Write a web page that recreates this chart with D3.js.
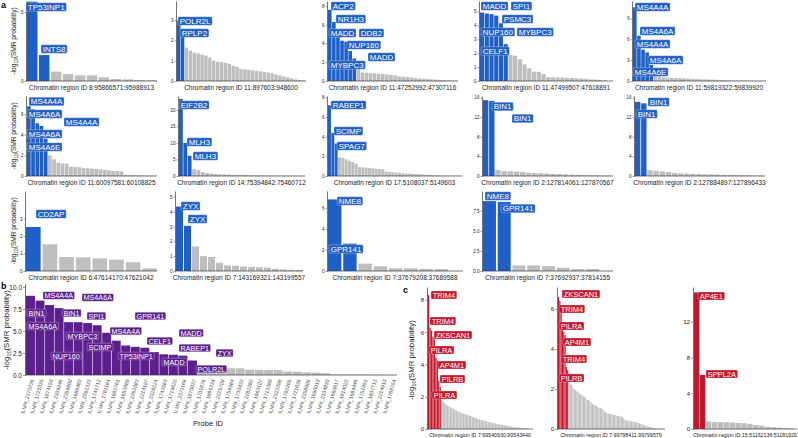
<!DOCTYPE html>
<html><head><meta charset="utf-8">
<script src="https://cdn.jsdelivr.net/npm/d3@7"></script>
<style>body{margin:0;background:#fff}svg{display:block}text{font-family:"Liberation Sans",Arial,Helvetica,sans-serif}</style>
</head><body><svg id="chart" width="798" height="438"></svg>
<script>
// ================= DATA =================
// ---- panel a ----
const regionsA = ["8:95866571:95988913","11:897603:948600","11:47252992:47307116","11:47499507:47618891","11:59819322:59839920",
  "11:60097581:60108825","14:75394842:75460712","17:5108037:5149603","2:127814061:127870567","2:127884897:127896433",
  "6:47614170:47621042","7:143169321:143199557","7:37679208:37689588","7:37692937:37814155"];
const genesA = [["TP53INP1","INTS8"],["POLR2L","RPLP2"],["ACP2","NR1H3","MADD","DDB2","NUP160","MADD","MYBPC3"],
  ["MADD","SPI1","PSMC3","NUP160","MYBPC3","CELF1"],["MS4A4A","MS4A6A","MS4A4A","MS4A6A","MS4A6E"],
  ["MS4A4A","MS4A6A","MS4A4A","MS4A6A","MS4A6E"],["EIF2B2","MLH3","MLH3"],["RABEP1","SCIMP","SPAG7"],
  ["BIN1","BIN1"],["BIN1","BIN1"],["CD2AP"],["ZYX","ZYX"],["NME8","GPR141"],["NME8","GPR141"]];
const valuesA = [
  [5.75,1.88,0.68,0.5,0.41,0.41,0.27,0.15,0.12,0.07,0.05],
  [2.97,2.38,1.64,1.5,1.4,1.35,1.3,1.25,1.15,1.0,0.95,0.93,0.9,0.85,0.75,0.7,0.6,0.57,0.55,0.53,0.5,0.48,0.45,0.42,0.38,0.32,0.28,0.22,0.18,0.13,0.08,0.05,0.03],
  [7.6,6.3,5.15,4.3,4.2,3.2,2.4,1.55,0.92,0.88,0.85,0.82,0.78,0.75,0.7,0.65,0.6,0.5,0.45,0.42,0.38,0.32,0.28,0.25,0.22,0.18,0.15,0.12,0.1,0.07,0.05,0.03],
  [4.92,4.85,4.8,4.7,4.15,2.65,1.87,1.82,1.56,1.2,0.92,0.67,0.66,0.5,0.28,0.27,0.26,0.25,0.23,0.22,0.2,0.18,0.15,0.12,0.1,0.08,0.05],
  [10.6,6.5,4.5,4.1,2.3,0.72,0.68,0.55,0.5,0.45,0.42,0.4,0.38,0.35,0.32,0.3,0.28,0.25,0.22,0.2,0.18,0.15,0.13,0.1,0.08,0.06,0.05,0.04,0.03,0.02,0.01,0.01],
  [6.75,6.45,5.1,4.85,3.6,2.0,1.6,1.3,1.22,1.2,0.9,0.88,0.85,0.78,0.75,0.7,0.68,0.65,0.6,0.55,0.5,0.48,0.45,0.1,0.1,0.08,0.06,0.05,0.04,0.03,0.02],
  [23.3,10.0,6.1,2.1,1.8,1.2,0.9,0.75,0.6,0.5,0.45,0.4,0.35,0.32,0.3,0.28,0.25,0.22,0.2,0.18,0.15,0.12,0.1,0.08,0.07,0.05,0.04,0.03,0.02],
  [7.2,4.4,3.3,1.9,1.85,1.7,1.55,1.4,1.25,0.9,0.88,0.85,0.82,0.78,0.75,0.7,0.68,0.45,0.42,0.38,0.35,0.3,0.28,0.26,0.25,0.22,0.2,0.18,0.15,0.12,0.1,0.08,0.06,0.05,0.04,0.03,0.02,0.02,0.01,0.01],
  [15.45,15.3,1.2,1.0,0.95,0.9,0.85,0.65,0.6,0.55,0.5,0.42,0.38,0.32,0.28,0.25,0.2,0.18,0.15,0.1,0.08],
  [15.1,14.8,1.2,1.05,0.95,0.8,0.65,0.55,0.5,0.45,0.4,0.35,0.32,0.3,0.25,0.22,0.2,0.18,0.15,0.1,0.08],
  [2.52,1.53,0.8,0.78,0.72,0.65,0.5,0.15],
  [4.35,3.05,1.65,1.0,0.95,0.55,0.38,0.35,0.3,0.28,0.25,0.23,0.15,0.1,0.08,0.07],
  [6.8,2.6,0.7,0.45,0.25,0.25,0.2,0.18],
  [8.7,8.6,0.7,0.7,0.6,0.4,0.25,0.25]
];
const ticksA = [[0,5],[0,1,2,3],[0,2,4,6,8],[0,1,2,3,4,5],[0,3,6,9],[0,2,4,6],[0,5,10,15,20],[0,2,4,6,8],
  [0,4,8,12,16],[0,4,8,12,16],[0,1,2,3],[0,1,2,3,4,5],[0,2,4,6],[0,2.5,5,7.5]];

// ---- panel b ----
const probeIds = ["ILMN_2370336","ILMN_1721035","ILMN_1874150","ILMN_2309246","ILMN_2359800","ILMN_1686483","ILMN_2092333",
  "ILMN_1741712","ILMN_1781184","ILMN_1682761","ILMN_1653989","ILMN_2362083","ILMN_2214197","ILMN_2328224","ILMN_1743583",
  "ILMN_1719622","ILMN_2371169","ILMN_1870037","ILMN_1701876","ILMN_1881334","ILMN_2225709","ILMN_1759584","ILMN_1730433",
  "ILMN_2282282","ILMN_1663107","ILMN_1713380","ILMN_2323398","ILMN_1792265","ILMN_1721636","ILMN_2358909","ILMN_1690010",
  "ILMN_2104830","ILMN_1660817","ILMN_1814022","ILMN_1684446","ILMN_1751953","ILMN_1807712","ILMN_2214910","ILMN_1768754"];
const probeValues = [9.0,8.45,7.95,7.6,6.0,6.0,5.9,5.65,4.8,3.9,3.35,3.2,3.1,2.6,2.35,2.3,2.2,1.65,
  0.85,0.82,0.8,0.77,0.76,0.6,0.58,0.57,0.55,0.4,0.38,0.3,0.28,0.19,0.05,0.04,0.03,0.03,0.02,0.02,0.01];
const probeGenes = ["MS4A4A","BIN1","BIN1","MS4A6A","MS4A6A","SPI1","MYBPC3","GPR141","MS4A4A","NUP160","SCIMP",
  "CELF1","TP53INP1","MADD","RABEP1","MADD","ZYX","POLR2L"];
const ticksB = [0,2.5,5,7.5,10];

// ---- panel c ----
const regionsC = ["7:99540930:99543440","7:99798411:99799579","15:51162136:51181920"];
const genesC = [["TRIM4","TRIM4","ZKSCAN1","PILRA","AP4M1","PILRB","PILRA"],
  ["ZKSCAN1","TRIM4","PILRA","AP4M1","TRIM4","PILRB"],["AP4E1","SPPL2A"]];
const highlightC = [9, 8, 2];
const valuesC = [
  [8.3,6.25,6.1,5.7,5.55,4.45,4.25,3.0,2.6,
   1.75,1.68,1.6,1.52,1.45,1.4,1.35,1.3,1.25,1.2,1.15,1.1,1.06,1.02,0.98,0.95,0.92,0.9,0.87,0.84,
   0.8,0.76,0.72,0.69,0.66,0.63,0.6,0.57,0.54,0.52,0.5,0.47,0.44,0.42,0.4,0.38,0.36,0.34,0.32,0.3,
   0.28,0.26,0.25,0.24,0.22,0.2,0.19,0.17,0.15,0.14,0.12,0.1,0.09,0.08,0.06,0.05,0.04,0.03,0.02,0.01],
  [6.6,6.4,6.1,5.0,4.85,4.7,3.1,2.95,
   2.3,2.25,2.2,2.05,1.98,1.95,1.9,1.85,1.78,1.72,1.7,1.65,1.6,1.52,1.47,1.45,1.4,1.32,1.25,1.22,
   1.2,1.15,1.1,1.06,1.04,1.03,0.98,0.9,0.84,0.8,0.78,0.76,0.74,0.72,0.71,0.7,0.68,0.66,0.64,0.63,
   0.62,0.6,0.52,0.46,0.43,0.42,0.41,0.4,0.38,0.37,0.36,0.34,0.32,0.3,0.28,0.27,0.24,0.2,0.18,0.16,
   0.14,0.12,0.1,0.08,0.06,0.05,0.03,0.02],
  [15.3,6.05,0.85,0.8,0.78,0.76,0.72,0.68,0.65,0.58,0.45,0.38,0.25,0.2,0.15,0.08,0.05]
];
const ticksC = [[0,2,4,6,8],[0,2,4,6],[0,4,8,12]];

// ================= LAYOUT (positions / styles only) =================
const BLUE = "#1f5fc8", PURPLE = "#5c1f8e", RED = "#c4162a", GREY = "#bebebe", AXIS = "#333333";
const layoutA = [
  {x0:26,base:81,barsW:130,axisW:131,ymax:5.8},{x0:176,base:81,barsW:128,axisW:130,ymax:3.94},
  {x0:327,base:81,barsW:130,axisW:131,ymax:8.53},{x0:479,base:81,barsW:127,axisW:134,ymax:5.75},
  {x0:632,base:81,barsW:131,axisW:134,ymax:11.5},
  {x0:26,base:176,barsW:130,axisW:131,ymax:7.74},{x0:178,base:176,barsW:126,axisW:127,ymax:24.2},
  {x0:327,base:176,barsW:133,axisW:135,ymax:8.14},{x0:482,base:176,barsW:128,axisW:131,ymax:16.3},
  {x0:634,base:176,barsW:128,axisW:131,ymax:16.3},
  {x0:25,base:271,barsW:131,axisW:132,ymax:4.58},{x0:175,base:271,barsW:127,axisW:128,ymax:5.4},
  {x0:327,base:271,barsW:120,axisW:136,ymax:7.6},{x0:482,base:271,barsW:116,axisW:131,ymax:9.96}
];
// label box offsets: [left offset from y axis, centre height above baseline] in px
const labelPosA = [
  [[0,74],[15,32]],[[2,60],[4,48]],
  [[4,75],[9,62],[2,48],[32,48],[20,36],[41,24],[2,16]],
  [[2,75],[32,75],[23,62],[2,49],[38,49],[2,30]],
  [[3,74],[8,50],[3,37],[16,21],[1,9]],
  [[3,74.5],[1,62],[38,54],[1,42],[1,29]],
  [[1,71],[9,34],[15,20]],[[4,71],[7,45],[10,30]],
  [[10,69.5],[30,57.5]],[[14,74],[2,62]],
  [[11,57]],[[6,65],[13,52]],[[10,70],[2,22]],[[3,75],[19,62.5]]
];
const layoutB = {x0:25, base:375, barsW:371, axisW:372, h:91, ymax:10.34};
const labelPosB = [[18,79.5],[2,62],[37,62],[57,77.5],[2,49],[62,59],[41,39],[110,59],[85,44],[26,19],[62,28],
  [122,34],[93,19],[137,13],[154,27],[154,42],[191,22],[171,6]];
const layoutC = [
  {x0:427,base:429,barsW:100,axisW:106,h:142,ymax:8.8},
  {x0:557,base:429,barsW:99,axisW:108,h:142,ymax:7.1},
  {x0:693,base:429,barsW:100,axisW:104,h:142,ymax:15.9}
];
const labelPosC = [
  [[4,134],[3,108],[7,94],[2,79],[11,64],[13,50],[5,34]],
  [[5,135],[2,120],[2,103],[6,87],[4,70],[2,51]],
  [[5,133],[13,55]]
];

// ================= DRAW =================
const svg = d3.select("#chart");

function yTitle(cx, cy, size) {
  const t = svg.append("text").attr("transform", `translate(${cx},${cy}) rotate(-90)`)
    .attr("text-anchor", "middle").attr("font-size", size).attr("fill", "#1a1a1a");
  t.append("tspan").text("-log");
  t.append("tspan").attr("font-size", size * 0.72).attr("dy", size * 0.3).text("10");
  t.append("tspan").attr("dy", -size * 0.3).text("(SMR probability)");
}

function addLabel(g, text, left, cy, font, color) {
  const lg = g.append("g");
  const t = lg.append("text").attr("x", left + font * 0.22).attr("y", cy).attr("dy", "0.36em")
    .attr("font-size", font).attr("fill", "#fff").text(text);
  const w = t.node().getComputedTextLength();
  lg.insert("rect", "text").attr("x", left).attr("y", cy - font * 0.53).attr("width", w + font * 0.44)
    .attr("height", font * 1.06).attr("rx", 1.2).attr("fill", color)
    .attr("stroke", "#ffffff").attr("stroke-opacity", 0.55).attr("stroke-width", 0.5);
}

function drawPanel(o) {
  const g = svg.append("g");
  const x = d3.scaleBand().domain(d3.range(o.values.length))
    .range([o.x0 + 1, o.x0 + 1 + o.barsW]).paddingInner(o.pad).paddingOuter(0);
  const y = d3.scaleLinear().domain([0, o.ymax]).range([o.base, o.base - o.h]);
  g.selectAll("rect.bar").data(o.values).join("rect").attr("class", "bar")
    .attr("x", (d, i) => x(i)).attr("width", x.bandwidth())
    .attr("y", d => y(d)).attr("height", d => o.base - y(d))
    .attr("fill", (d, i) => i < o.nHi ? o.color : GREY);
  // x axis line
  g.append("line").attr("x1", o.x0).attr("x2", o.x0 + o.axisW).attr("y1", o.base).attr("y2", o.base)
    .attr("stroke", AXIS).attr("stroke-width", 0.7);
  // y axis
  const ax = g.append("g").attr("transform", `translate(${o.x0},0)`)
    .call(d3.axisLeft(y).tickValues(o.ticks).tickSize(o.tickLen).tickSizeOuter(0).tickPadding(1).tickFormat(o.fmt));
  ax.select(".domain").attr("stroke", AXIS).attr("stroke-width", 0.7);
  ax.selectAll(".tick line").attr("stroke", AXIS).attr("stroke-width", 0.5);
  ax.selectAll(".tick text").attr("font-size", o.tickFont).attr("fill", "#1a1a1a")
    .attr("font-family", '"Liberation Sans",Arial,sans-serif');
  return {g, x, y};
}

// ---- panel a ----
svg.append("text").attr("x", 1).attr("y", 8).attr("font-size", 9).attr("font-weight", "bold").text("a");
regionsA.forEach((reg, k) => {
  const L = layoutA[k];
  const {g} = drawPanel({values: valuesA[k], nHi: genesA[k].length, color: BLUE, x0: L.x0, base: L.base,
    barsW: L.barsW, axisW: L.axisW, h: 80, ymax: L.ymax, ticks: ticksA[k], tickLen: 1.5, tickFont: 4.5,
    fmt: k === 13 ? d3.format(".1f") : d3.format("d"), pad: 0.12});
  g.append("text").attr("x", L.x0 + L.axisW / 2).attr("y", L.base + 8.5).attr("text-anchor", "middle")
    .attr("font-size", 6.5).attr("fill", "#1a1a1a").text("Chromatin region ID " + reg);
  genesA[k].forEach((gn, j) => {
    const p = labelPosA[k][j];
    addLabel(g, gn, L.x0 + p[0], L.base - p[1], 8, BLUE);
  });
});
[41, 136, 231].forEach(cy => yTitle(16, cy, 6.6));

// ---- panel b ----
svg.append("text").attr("x", 1).attr("y", 289).attr("font-size", 9).attr("font-weight", "bold").text("b");
{
  const L = layoutB;
  const {g, x} = drawPanel({values: probeValues, nHi: probeGenes.length, color: PURPLE, x0: L.x0, base: L.base,
    barsW: L.barsW, axisW: L.axisW, h: L.h, ymax: L.ymax, ticks: ticksB, tickLen: 2, tickFont: 6.5,
    fmt: d3.format(".1f"), pad: 0.06});
  probeIds.forEach((id, i) => {
    const cx = x(i) + x.bandwidth() / 2 + 3.5;
    g.append("text").attr("transform", `translate(${cx},${L.base + 5}) rotate(-74)`)
      .attr("text-anchor", "end").attr("font-size", 5.2).attr("fill", "#4d4d4d").text(id);
  });
  g.append("text").attr("x", 208).attr("y", 426).attr("text-anchor", "middle").attr("font-size", 7.6)
    .attr("fill", "#1a1a1a").text("Probe ID");
  probeGenes.forEach((gn, j) => {
    const p = labelPosB[j];
    addLabel(g, gn, L.x0 + p[0], L.base - p[1], 7.2, PURPLE);
  });
  yTitle(9, 330, 7.8);
}

// ---- panel c ----
svg.append("text").attr("x", 403).attr("y", 293).attr("font-size", 9).attr("font-weight", "bold").text("c");
regionsC.forEach((reg, k) => {
  const L = layoutC[k];
  const {g} = drawPanel({values: valuesC[k], nHi: highlightC[k], color: RED, x0: L.x0, base: L.base,
    barsW: L.barsW, axisW: L.axisW, h: L.h, ymax: L.ymax, ticks: ticksC[k], tickLen: 2, tickFont: 6,
    fmt: d3.format("d"), pad: k === 2 ? 0.08 : 0.15});
  g.append("text").attr("x", L.x0 + L.axisW / 2).attr("y", L.base + 8).attr("text-anchor", "middle")
    .attr("font-size", 5.3).attr("fill", "#1a1a1a").text("Chromatin region ID " + reg);
  genesC[k].forEach((gn, j) => {
    const p = labelPosC[k][j];
    addLabel(g, gn, L.x0 + p[0], L.base - p[1], 7.5, RED);
  });
});
yTitle(414, 360, 7.8);
</script></body></html>
